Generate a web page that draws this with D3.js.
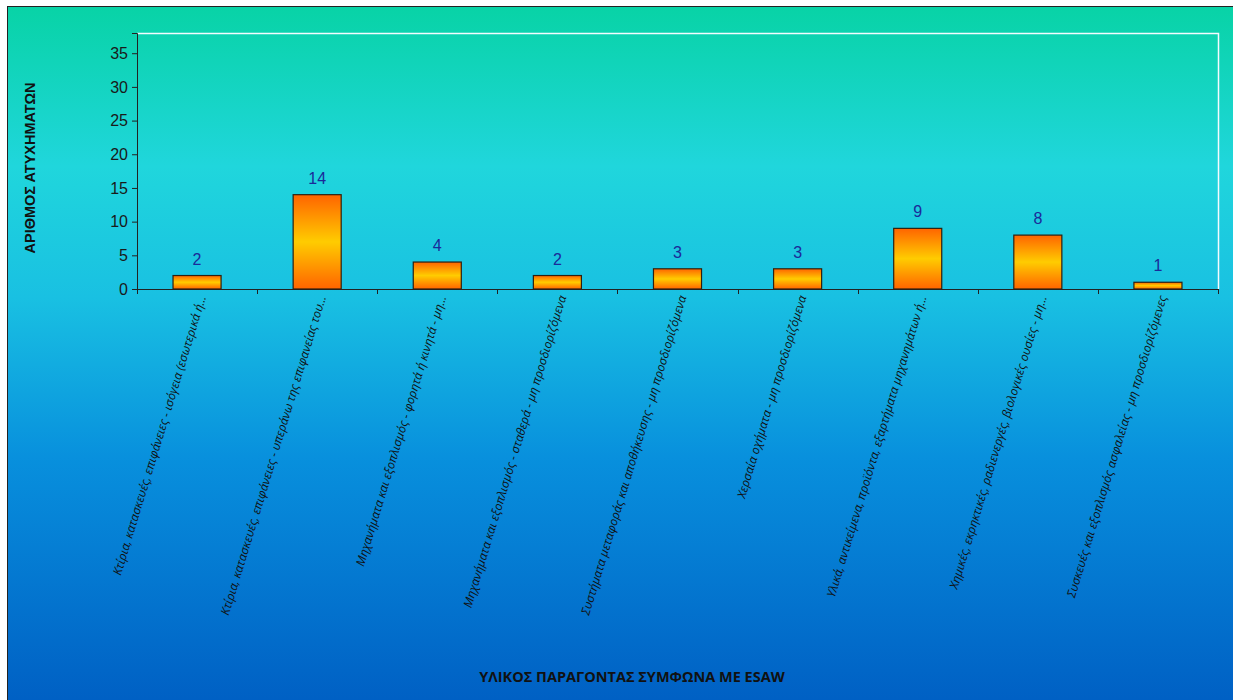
<!DOCTYPE html>
<html lang="el">
<head>
  <meta charset="UTF-8">
  <title>Υλικός παράγοντας σύμφωνα με ESAW</title>
  <script src="https://d3js.org/d3.v7.min.js"></script>
  <style>
    body { margin: 0; background: #fff; }
    svg { display: block; }
    .tick text { font-family: "Liberation Sans", Arial, sans-serif; }
  </style>
</head>
<body>
  <svg id="chart" width="1233" height="700"></svg>

  <script>
    const categories = [
      "Κτίρια, κατασκευές, επιφάνειες - ισόγεια (εσωτερικά ή...",
      "Κτίρια, κατασκευές, επιφάνειες - υπεράνω της επιφανείας του...",
      "Μηχανήματα και εξοπλισμός - φορητά ή κινητά - μη...",
      "Μηχανήματα και εξοπλισμός - σταθερά - μη προσδιορίζόμενα",
      "Συστήματα μεταφοράς και αποθήκευσης - μη προσδιορίζόμενα",
      "Χερσαία οχήματα - μη προσδιορίζόμενα",
      "Υλικά, αντικείμενα, προϊόντα, εξαρτήματα μηχανημάτων ή...",
      "Χημικές, εκρηκτικές, ραδιενεργές, βιολογικές ουσίες - μη...",
      "Συσκευές και εξοπλισμός ασφαλείας - μη προσδιορίζόμενες"
    ];
    const accidents = [2, 14, 4, 2, 3, 3, 9, 8, 1];
    const yTicks = [0, 5, 10, 15, 20, 25, 30, 35];

    const svg = d3.select("#chart");
    const W = 1233, H = 700;
    const plot = { left: 137, top: 33, right: 1218, bottom: 289 };

    const defs = svg.append("defs");
    const bg = defs.append("linearGradient").attr("id", "bg")
      .attr("x1", 0).attr("y1", 0).attr("x2", 0).attr("y2", 1);
    [[0, "#08d3a6"], [0.23, "#20d6dc"], [0.42, "#19c0e2"], [0.65, "#0890dd"], [1, "#0060c4"]]
      .forEach(([o, c]) => bg.append("stop").attr("offset", o).attr("stop-color", c));

    const barGrad = defs.append("linearGradient").attr("id", "barGrad")
      .attr("x1", 0).attr("y1", 0).attr("x2", 0).attr("y2", 1);
    [[0, "#ff6400"], [0.5, "#ffcc00"], [1, "#ff6400"]]
      .forEach(([o, c]) => barGrad.append("stop").attr("offset", o).attr("stop-color", c));

    svg.append("rect").attr("x", 0).attr("y", 0).attr("width", W).attr("height", H).attr("fill", "#fff");
    svg.append("rect").attr("x", 7.5).attr("y", 6.5).attr("width", W - 7).attr("height", H - 6)
      .attr("fill", "url(#bg)").attr("stroke", "#222").attr("stroke-width", 1);

    const x = d3.scaleBand().domain(categories).range([plot.left, plot.right]).paddingInner(0).paddingOuter(0);
    const y = d3.scaleLinear().domain([0, 38]).range([plot.bottom, plot.top]);

    // plot area border (white top and right)
    svg.append("path")
      .attr("d", `M${plot.left},${plot.top + 0.5}H${plot.right + 0.5}V${plot.bottom}`)
      .attr("fill", "none").attr("stroke", "#f4fbff").attr("stroke-width", 1.5);

    const yAxis = svg.append("g")
      .attr("transform", `translate(${plot.left},0)`)
      .call(d3.axisLeft(y).tickValues(yTicks).tickSize(5).tickPadding(4));
    yAxis.select(".domain").attr("stroke", "#222");
    yAxis.selectAll(".tick line").attr("stroke", "#222");
    yAxis.selectAll(".tick text").attr("font-size", 16).attr("fill", "#1a1a1a");

    // x axis line with ticks at band boundaries
    const xAxis = svg.append("g");
    xAxis.append("line")
      .attr("x1", plot.left).attr("x2", plot.right)
      .attr("y1", plot.bottom + 0.5).attr("y2", plot.bottom + 0.5)
      .attr("stroke", "#222");
    const bounds = categories.map(c => x(c)).concat([plot.right]);
    xAxis.selectAll(".xt").data(bounds).enter().append("line")
      .attr("x1", d => Math.round(d) + 0.5).attr("x2", d => Math.round(d) + 0.5)
      .attr("y1", plot.bottom).attr("y2", plot.bottom + 5)
      .attr("stroke", "#222");

    const bw = x.bandwidth() * 0.4;
    svg.selectAll(".bar").data(accidents).enter().append("rect")
      .attr("x", (d, i) => x(categories[i]) + (x.bandwidth() - bw) / 2)
      .attr("y", d => y(d))
      .attr("width", bw)
      .attr("height", d => y(0) - y(d))
      .attr("fill", "url(#barGrad)")
      .attr("stroke", "#2e2010").attr("stroke-width", 1.2);

    svg.selectAll(".val").data(accidents).enter().append("text")
      .attr("x", (d, i) => x(categories[i]) + x.bandwidth() / 2)
      .attr("y", d => y(d) - 11)
      .attr("text-anchor", "middle")
      .attr("font-family", "Liberation Sans, Arial, sans-serif")
      .attr("font-size", 16)
      .attr("fill", "#1a2a9a")
      .text(d => d);

    svg.selectAll(".cat").data(categories).enter().append("text")
      .attr("transform", d => `translate(${x(d) + x.bandwidth() / 2 + 9},${plot.bottom + 8}) rotate(-73)`)
      .attr("text-anchor", "end")
      .attr("font-family", "Open Sans, DejaVu Sans, sans-serif")
      .attr("font-style", "italic")
      .attr("font-size", 12)
      .attr("fill", "#111")
      .text(d => d);

    svg.append("text")
      .attr("transform", `translate(35,${(80 + 256) / 2}) rotate(-90)`)
      .attr("text-anchor", "middle")
      .attr("font-family", "Liberation Sans, Arial, sans-serif")
      .attr("font-weight", "bold")
      .attr("font-size", 14.5)
      .attr("fill", "#111")
      .text("ΑΡΙΘΜΟΣ ΑΤΥΧΗΜΑΤΩΝ");

    svg.append("text")
      .attr("x", 632).attr("y", 682)
      .attr("text-anchor", "middle")
      .attr("font-family", "Open Sans, Liberation Sans, sans-serif")
      .attr("font-weight", "bold")
      .attr("font-size", 14.5)
      .attr("fill", "#111")
      .text("ΥΛΙΚΟΣ ΠΑΡΑΓΟΝΤΑΣ ΣΥΜΦΩΝΑ ΜΕ ESAW");
  </script>
</body>
</html>
